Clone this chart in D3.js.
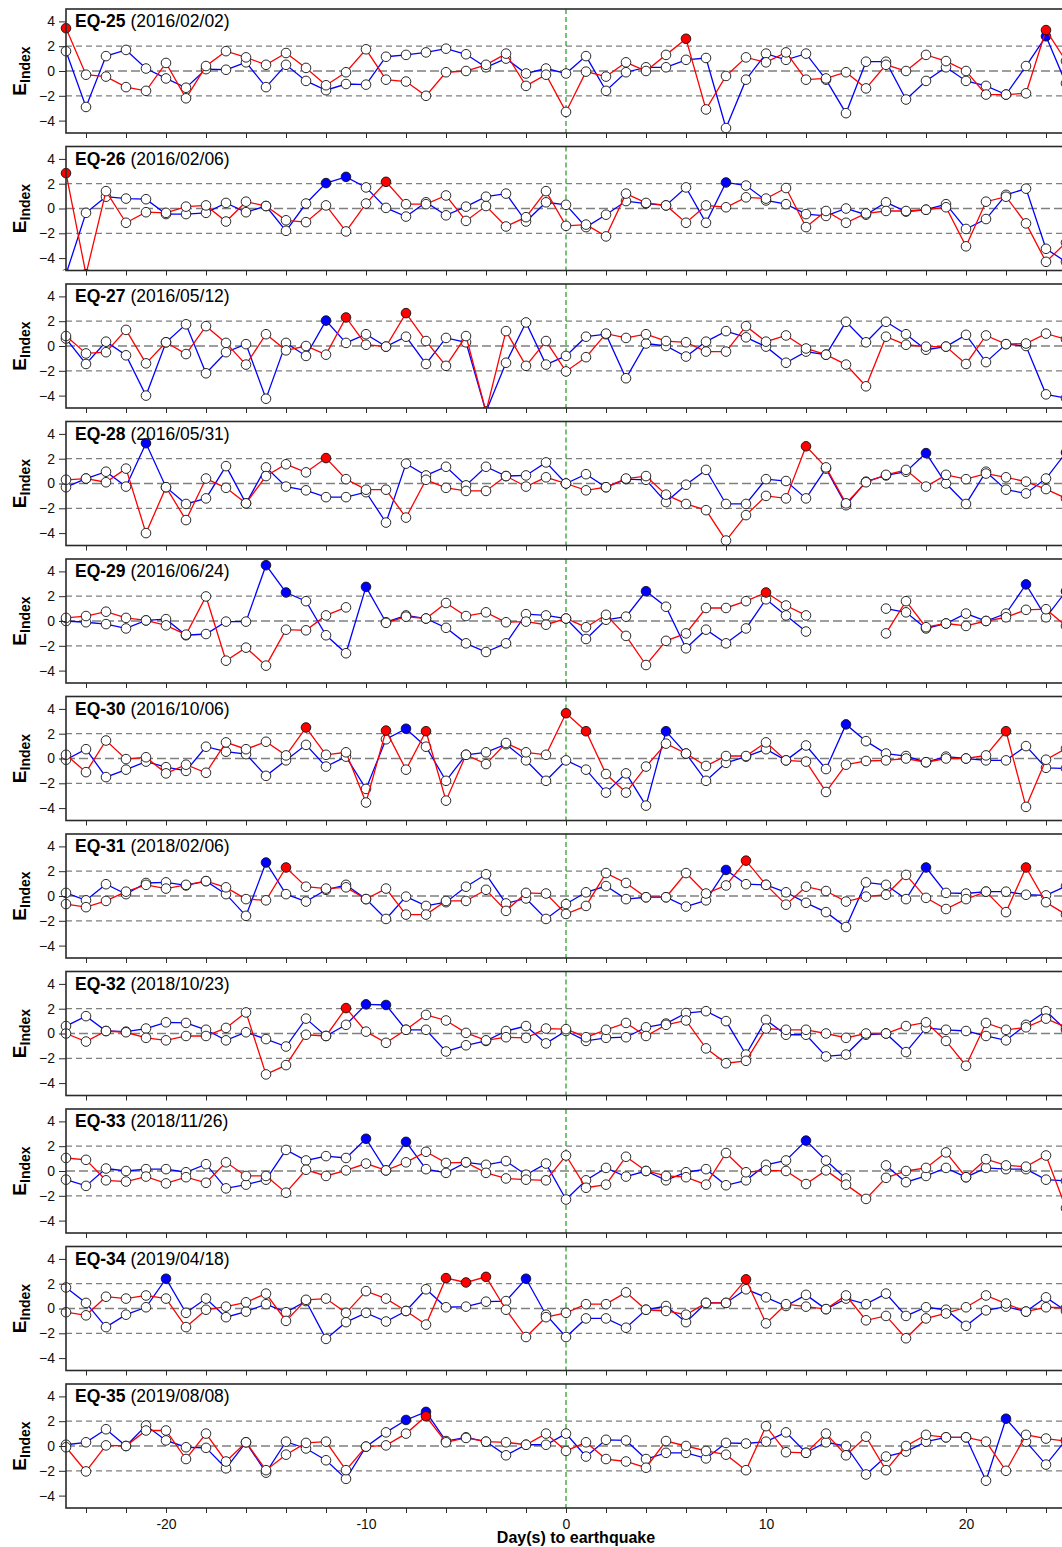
<!DOCTYPE html>
<html>
<head>
<meta charset="utf-8">
<script src="https://cdn.jsdelivr.net/npm/d3@7"></script>
<style>
  html, body { margin: 0; padding: 0; background: #fff; }
  svg { display: block; font-family: "Liberation Sans", Arial, sans-serif; }
</style>
</head>
<body>
<svg id="chart" width="1062" height="1547"></svg>
<script>
// ---------------- DATA (days -25 .. 25) ----------------
const days = d3.range(-25, 26);
const eqNames = ["EQ-25","EQ-26","EQ-27","EQ-28","EQ-29","EQ-30","EQ-31","EQ-32","EQ-33","EQ-34","EQ-35"];
const eqDates = ["(2016/02/02)","(2016/02/06)","(2016/05/12)","(2016/05/31)","(2016/06/24)","(2016/10/06)","(2018/02/06)","(2018/10/23)","(2018/11/26)","(2019/04/18)","(2019/08/08)"];
const yTicks = [-4, -2, 0, 2, 4];
const xTicks = d3.range(-24, 25, 2);
const xLabels = [-20, -10, 0, 10, 20];
const refLines = [-2, 0, 2];

const red25 = [3.45,-0.3,-0.45,-1.3,-1.6,0.65,-2.2,0.4,1.6,1.1,0.5,1.45,0.25,-1.15,-0.1,1.75,-0.7,-0.85,-2.0,-0.1,0.0,0.5,1.4,-1.2,-0.3,-3.3,-0.05,-0.45,0.7,0.0,1.3,2.6,-3.1,-0.4,1.1,0.7,1.5,-0.7,-0.6,-0.1,-1.4,0.5,0.0,1.3,0.8,0.0,-1.9,-1.9,-1.8,3.3,0.8];
const blue25 = [1.6,-2.9,1.2,1.7,0.2,-0.6,-1.35,0.15,0.1,0.7,-1.3,0.5,-0.8,-1.55,-1.05,-1.1,1.15,1.3,1.5,1.8,1.35,0.3,1.0,-0.2,0.2,-0.2,1.2,-1.6,-0.1,0.3,0.3,0.9,1.05,-4.6,-0.7,1.4,0.9,1.4,-0.7,-3.4,0.75,0.75,-2.3,-0.8,0.3,-0.8,-1.2,-1.9,0.4,2.8,-1.0];

const red26 = [2.85,-5.3,1.4,-1.15,-0.3,-0.35,0.15,0.25,-1.05,0.55,0.2,-0.95,-1.1,0.25,-1.85,0.4,2.15,0.35,0.35,1.05,-1.0,0.2,-1.45,-0.7,1.4,-1.4,-1.3,-2.25,1.2,0.45,0.25,-1.15,0.25,0.1,0.9,0.8,1.65,-1.5,-0.2,-1.15,-0.4,-0.2,-0.2,-0.1,0.1,-3.05,0.55,0.95,-1.2,-4.3,-2.75];
const blue26 = [-5.3,-0.35,0.95,0.8,0.75,-0.45,-0.45,-0.35,0.45,-0.3,0.2,-1.8,0.4,2.05,2.55,1.7,0.05,-0.65,0.5,-0.55,0.15,0.95,1.2,-1.05,0.5,0.3,-1.5,-0.5,0.6,0.4,0.25,1.7,-1.15,2.1,1.85,0.65,0.35,-0.45,-0.6,0.0,-0.5,0.5,-0.25,-0.1,0.35,-1.65,-0.85,1.1,1.6,-3.25,-4.3];

const red27 = [0.8,-0.6,-0.5,1.3,-1.4,0.3,-0.65,1.6,0.25,-1.5,0.95,-0.35,0.0,-0.7,2.3,0.1,-0.05,2.65,0.4,-1.6,0.8,-5.3,1.2,-1.6,0.4,-2.05,-0.9,1.0,0.65,0.95,0.4,0.3,-0.45,-0.45,1.6,0.35,0.85,-0.2,-0.7,-1.5,-3.25,0.75,0.1,-0.05,-0.05,-1.45,0.85,0.15,0.2,1.0,0.55];
const blue27 = [0.6,-1.45,0.35,-0.75,-4.0,0.3,1.75,-2.2,-0.5,0.15,-4.25,0.25,-0.8,2.05,0.25,0.95,-0.05,0.75,-1.45,0.65,0.3,-5.3,-1.35,1.9,-1.5,-0.8,0.75,0.95,-2.6,0.2,0.0,-0.85,0.35,1.2,0.7,-0.05,-1.35,-0.45,-0.7,1.95,0.3,1.95,0.95,-0.3,-0.05,0.9,-1.3,0.15,0.0,-3.9,-4.2];

const red28 = [0.3,0.4,0.1,1.2,-4.0,-0.3,-2.95,0.4,-0.35,-1.6,0.6,1.55,0.9,2.05,0.35,-0.5,-0.5,-2.75,0.3,-0.35,-0.6,-0.6,0.6,-0.25,0.5,0.0,-0.55,-0.3,0.4,0.6,-0.9,-1.65,-2.15,-4.6,-2.55,-1.0,-1.2,3.0,1.3,-1.6,0.1,0.7,1.1,-0.25,0.7,0.35,0.8,0.5,0.15,-0.45,-1.2];
const blue28 = [-0.3,0.4,0.95,-0.25,3.25,-0.3,-1.65,-1.2,1.4,-1.6,1.3,-0.25,-0.55,-1.1,-1.1,-0.7,-3.15,1.6,0.65,1.35,-0.15,1.35,0.6,0.65,1.7,0.0,0.75,-0.3,0.35,0.3,-1.5,-0.1,1.1,-1.65,-1.65,0.35,0.2,-1.2,1.2,-1.75,0.15,0.65,0.95,2.45,0.0,-1.65,0.95,-0.5,-0.8,0.4,2.5];

const red29 = [0.25,0.4,0.75,0.25,0.05,-0.35,-1.1,1.98,-3.2,-2.15,-3.6,-0.7,-0.75,0.45,1.1,null,-0.15,0.35,0.2,1.45,0.4,0.7,-0.1,-0.05,-0.3,0.2,-0.5,0.5,-1.2,-3.55,-1.6,-1.0,1.05,1.05,1.6,2.3,1.25,0.45,null,null,null,-1.0,1.6,-0.5,-0.2,-0.4,0.0,0.3,0.9,0.95,-0.4];
const blue29 = [0.0,-0.1,-0.25,-0.6,0.05,0.15,-1.15,-1.05,-0.05,-0.05,4.5,2.3,1.6,-1.15,-2.6,2.75,-0.1,0.45,0.2,-0.55,-1.8,-2.5,-1.8,0.55,0.45,0.2,-1.45,0.1,0.35,2.4,1.15,-2.2,-0.7,-1.8,-0.6,1.75,0.45,-0.85,null,null,null,1.0,0.7,-0.6,-0.2,0.6,0.0,0.6,2.95,0.3,2.4];

const red30 = [0.3,-1.1,1.45,-0.05,0.1,-1.2,-0.5,-1.15,1.3,0.75,1.35,0.25,2.5,0.3,0.5,-3.55,2.25,-0.9,2.2,-3.4,0.3,-0.45,1.25,0.5,0.3,3.65,2.2,-1.25,-2.75,-0.65,1.2,0.4,-0.6,0.2,0.2,1.3,-0.15,-0.25,-2.7,-0.5,-0.2,-0.15,0.0,-0.3,0.0,0.0,0.25,2.2,-3.9,-0.1,0.8];
const blue30 = [-0.1,0.75,-1.5,-0.9,-0.25,-0.7,-1.0,0.95,0.55,0.35,-1.4,-0.15,1.1,-0.65,0.15,-2.45,1.55,2.4,0.95,-1.8,0.3,0.5,1.15,-0.15,-1.8,-0.15,-0.9,-2.75,-1.2,-3.8,2.2,0.4,-1.8,-0.35,0.15,0.75,-0.15,1.05,-0.85,2.75,1.4,0.4,0.2,-0.3,0.15,0.0,-0.15,-0.15,1.0,-0.75,-0.8];

const red31 = [-0.65,-0.9,-0.4,0.35,0.9,0.6,0.9,1.2,0.7,-0.25,-0.35,2.3,0.75,0.6,0.7,-0.25,0.6,-1.5,-1.5,-0.4,-0.4,0.5,-1.2,0.25,0.2,-1.45,-0.8,1.85,1.05,-0.1,-0.1,1.85,0.2,0.85,2.85,0.9,-0.7,0.75,0.4,-0.45,-0.05,0.1,1.7,-0.15,-1.05,-0.25,0.35,-1.3,2.3,-0.5,-1.5];
const blue31 = [0.25,-0.35,0.95,0.15,1.05,1.1,0.85,1.2,0.15,-1.6,2.7,0.15,-0.45,0.5,0.9,-0.25,-1.85,-0.05,-0.8,-0.5,0.75,1.75,-0.6,-0.2,-1.85,-0.65,0.3,0.8,-0.25,-0.1,-0.1,-0.85,-0.35,2.1,0.95,0.9,0.3,-0.55,-1.3,-2.5,1.1,0.9,-0.25,2.3,0.25,0.2,0.35,0.35,0.1,0.05,0.8];

const red32 = [0.0,-0.65,0.2,0.1,-0.35,-0.55,-0.2,-0.2,0.45,1.7,-3.3,-2.55,-0.1,-0.2,2.05,0.15,-0.75,0.3,1.5,1.05,0.05,-0.55,-0.3,-0.35,0.4,0.35,-0.3,0.3,0.85,-0.2,0.7,1.05,-1.2,-2.4,-2.2,0.4,0.3,0.3,0.0,-0.35,0.0,0.0,0.6,0.9,-0.6,-2.6,0.85,0.3,0.5,1.2,0.5];
const blue32 = [0.6,1.4,0.2,0.15,0.4,0.9,0.85,0.3,-0.55,0.1,-0.45,-1.05,1.2,-0.2,0.7,2.35,2.3,0.3,0.3,-1.45,-0.95,-0.6,0.2,0.6,-0.8,0.2,-0.6,-0.35,-0.3,0.5,0.8,1.65,1.8,1.0,-1.7,1.1,-0.1,-0.1,-1.85,-1.7,-0.1,0.0,-1.5,0.45,0.3,0.2,-0.2,-0.55,0.7,1.8,0.3];

const red33 = [1.05,0.9,-0.75,-0.85,-0.45,-1.0,-0.5,-0.95,0.7,-0.4,-0.4,-1.75,0.1,-0.4,0.05,0.6,0.05,0.7,1.55,0.65,0.7,-0.15,-0.6,-0.7,-0.75,1.25,-1.35,-1.1,1.15,0.0,-0.4,-0.5,-1.1,1.45,-0.1,0.05,0.0,-1.05,0.05,-1.1,-2.25,-0.55,0.0,0.25,1.5,-0.5,0.95,0.45,0.35,1.25,-3.0];
const blue33 = [-0.7,-1.2,0.2,0.0,0.15,0.15,-0.1,0.55,-1.4,-1.1,-0.7,1.7,0.85,1.2,1.05,2.6,0.05,2.35,0.15,-0.15,0.7,0.5,0.8,-0.3,0.6,-2.3,-0.75,0.25,-0.45,0.0,-0.75,-0.1,0.15,-1.15,-0.75,0.5,0.85,2.45,0.85,-0.6,null,0.45,-0.9,-0.4,0.25,-0.5,0.25,0.15,0.15,-0.7,-0.8];

const red34 = [-0.3,-0.55,0.95,0.8,1.05,0.8,-1.5,-0.1,0.15,0.5,1.2,-1.0,0.7,0.8,-0.35,1.4,0.8,-0.2,-1.3,2.45,2.1,2.55,-0.1,-2.3,-0.7,-0.35,0.35,0.35,1.3,-0.1,-0.2,-0.5,0.45,0.45,2.35,-1.2,0.35,0.15,-0.05,1.05,-0.95,-0.6,-2.4,-0.8,-0.4,0.1,1.05,0.4,-0.25,0.1,0.05];
const blue34 = [1.7,0.45,-1.5,-0.5,0.1,2.4,-0.35,0.8,-0.7,-0.25,0.35,-0.3,0.6,-2.45,-1.1,-0.35,-1.05,-0.2,1.55,0.1,0.15,0.55,0.6,2.4,-0.5,-2.3,-0.8,-0.8,-1.55,-0.1,0.2,-1.1,0.45,0.45,1.55,0.9,0.2,1.1,-0.05,0.8,0.35,1.2,-0.6,0.1,-0.1,-1.4,-0.15,0.15,-0.25,0.9,-0.2];

const red35 = [-0.1,-2.05,0.05,0.0,1.25,1.25,-1.05,1.0,-1.25,0.3,-1.95,-0.7,0.25,0.35,-1.95,-0.05,0.05,1.0,2.4,0.3,0.65,0.35,0.3,0.1,1.0,-0.4,0.3,-1.05,-1.25,-1.75,0.4,0.0,-0.4,-0.7,-1.95,1.6,-0.5,-0.55,1.0,-0.75,0.75,-1.95,0.0,0.9,0.7,0.7,0.35,-2.0,0.9,0.6,0.4];
const blue35 = [0.1,0.3,1.35,0.0,1.65,0.45,-0.1,-0.15,-1.8,0.3,-2.15,0.35,-0.2,-1.15,-2.65,-0.05,1.1,2.1,2.75,0.4,0.7,0.35,-0.75,0.1,0.1,1.0,-0.85,0.5,0.45,-1.05,-0.55,-0.55,-1.0,0.25,0.2,0.35,1.1,-0.55,0.3,0.0,-2.3,-0.85,-0.45,0.35,0.7,0.7,-2.8,2.2,0.35,-1.5,0.5];

const redSeries  = [red25, red26, red27, red28, red29, red30, red31, red32, red33, red34, red35];
const blueSeries = [blue25, blue26, blue27, blue28, blue29, blue30, blue31, blue32, blue33, blue34, blue35];

// ---------------- LAYOUT ----------------
const svg = d3.select("#chart");
const left = 66, right = 1066;
const panelTop0 = 9, panelStep = 137.5, panelH = 124;
const x = d3.scaleLinear().domain([-25, 25]).range([left, right]);
const threshold = 2;

eqNames.forEach((name, i) => {
  const top = panelTop0 + panelStep * i;
  const y = d3.scaleLinear().domain([-5, 5]).range([top + panelH, top]);
  const g = svg.append("g");

  const clipId = "clip" + i;
  svg.append("clipPath").attr("id", clipId)
    .append("rect").attr("x", left - 8).attr("y", top).attr("width", right - left + 20).attr("height", panelH);

  // reference lines
  g.selectAll("line.ref").data(refLines).enter().append("line")
    .attr("x1", left).attr("x2", right + 10)
    .attr("y1", d => y(d)).attr("y2", d => y(d))
    .attr("stroke", "#7f7f7f")
    .attr("stroke-width", d => d === 0 ? 1.7 : 1.3)
    .attr("stroke-dasharray", d => d === 0 ? "9,4" : "6,4");

  // earthquake day line
  g.append("line")
    .attr("x1", x(0)).attr("x2", x(0))
    .attr("y1", top).attr("y2", top + panelH)
    .attr("stroke", "#1f9a1f").attr("stroke-width", 1.2)
    .attr("stroke-dasharray", "5,3");

  const plotG = g.append("g").attr("clip-path", `url(#${clipId})`);

  const drawSeries = (vals, color) => {
    const pts = days.map((d, k) => ({ d, v: vals[k] }));
    const line = d3.line().defined(p => p.v !== null).x(p => x(p.d)).y(p => y(p.v));
    plotG.append("path").datum(pts)
      .attr("d", line).attr("fill", "none")
      .attr("stroke", color).attr("stroke-width", 1.3);
    plotG.selectAll(null).data(pts.filter(p => p.v !== null)).enter().append("circle")
      .attr("cx", p => x(p.d)).attr("cy", p => y(p.v)).attr("r", 4.8)
      .attr("fill", p => p.v > threshold ? color : "#ffffff")
      .attr("stroke", "#111").attr("stroke-width", 0.9);
  };
  drawSeries(blueSeries[i], "#0000ff");
  drawSeries(redSeries[i], "#ff0000");

  // frame
  g.append("rect").attr("x", left).attr("y", top)
    .attr("width", right - left + 40).attr("height", panelH)
    .attr("fill", "none").attr("stroke", "#2a2a2a").attr("stroke-width", 1.6);

  // y axis
  const ya = g.append("g").attr("transform", `translate(${left},0)`)
    .call(d3.axisLeft(y).tickValues(yTicks).tickSize(7).tickPadding(4).tickFormat(d3.format("d")));
  ya.select(".domain").remove();
  ya.selectAll("line").attr("stroke", "#2a2a2a");
  ya.selectAll("text").attr("font-size", 14).attr("fill", "#111")
    .attr("font-family", "Liberation Sans, Arial, sans-serif");

  // x axis
  const last = i === eqNames.length - 1;
  const xa = g.append("g").attr("transform", `translate(0,${top + panelH})`)
    .call(d3.axisBottom(x).tickValues(xTicks).tickSize(5).tickPadding(6)
      .tickFormat(d => (last && xLabels.includes(d)) ? String(d) : ""));
  xa.select(".domain").remove();
  xa.selectAll("line").attr("stroke", "#2a2a2a");
  xa.selectAll("text").attr("font-size", 14).attr("fill", "#111")
    .attr("font-family", "Liberation Sans, Arial, sans-serif");

  // panel title
  const t = g.append("text").attr("x", 75).attr("y", top + 18)
    .attr("font-size", 17.5).attr("fill", "#000");
  t.append("tspan").attr("font-weight", "bold").text(name);
  t.append("tspan").text(" " + eqDates[i]);

  // y axis title
  const yl = g.append("text")
    .attr("transform", `translate(26,${top + panelH / 2}) rotate(-90)`)
    .attr("text-anchor", "middle").attr("font-weight", "bold").attr("fill", "#000");
  yl.append("tspan").attr("font-size", 19).text("E");
  yl.append("tspan").attr("font-size", 14).attr("dy", 4).text("Index");
});

svg.append("text").attr("x", 576).attr("y", 1543)
  .attr("text-anchor", "middle").attr("font-weight", "bold").attr("font-size", 16)
  .attr("fill", "#000").text("Day(s) to earthquake");
</script>
</body>
</html>
